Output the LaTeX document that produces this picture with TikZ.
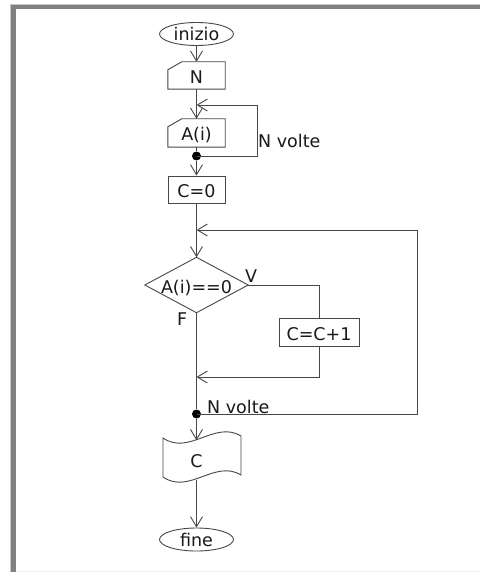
\documentclass[tikz,border=0pt]{standalone}
\usepackage{fontspec}
\setmainfont{DejaVu Sans}
\usetikzlibrary{arrows.meta,shapes.geometric}
\tikzset{
  ln/.style={draw=black!72, line width=0.9pt},
  arr/.style={ln, -{Straight Barb[length=10pt,width=12pt]}},
  txt/.style={font=\fontsize{17.5}{20}\selectfont, text=black!90},
  term/.style={txt, ellipse, ln, minimum width=74, minimum height=23, inner sep=0pt},
  boxnode/.style={txt, rectangle, minimum width=57, minimum height=27, inner sep=0pt, text height=16pt, text depth=0pt},
  procbox/.style={boxnode, ln},
  dot/.style={circle, fill=black, minimum size=9, inner sep=0pt},
  lbl/.style={txt, anchor=base west, inner sep=0pt}
}
\newcommand{\lowtxt}[1]{\raisebox{-6.5pt}[0pt][0pt]{#1}}
\begin{document}
\begin{tikzpicture}[x=1pt,y=-1pt]
\useasboundingbox (0,0) rectangle (480,572);
% frame
\fill[white] (0,0) rectangle (480,572);
\fill[black!50] (10.7,4.3) rectangle (15.7,572);
\fill[black!50] (10.7,4.3) rectangle (480,9.3);
\draw[black!22, line width=0.7pt] (10.3,572) -- (10.3,3.9) -- (480,3.9);
\fill[black!6] (15.7,570.6) rectangle (480,572);

% nodes
\node[term] (s) at (196.5,34) {\lowtxt{inizio}};
\node[boxnode] (N) at (196.5,75.5) {N};
\node[boxnode, minimum height=28] (A) at (196.5,133) {A(i)};
\node[dot] (d1) at (196.5,156) {};
\node[procbox] (C0) at (196.5,189.5) {C=0};
\node[boxnode, minimum width=103, minimum height=55] (D) at (196.5,285) {A(i)==0};
\node[procbox, minimum width=80, minimum height=28] (inc) at (319,332) {C=C+1};
\node[dot] (d2) at (196.5,414) {};
\node[txt, minimum width=10, minimum height=39, inner sep=0pt, text height=15pt, text depth=0pt] (tape) at (196.5,460) {C};
\node[term] (f) at (196.5,539.5) {\lowtxt{fine}};

\coordinate (j1) at (196.5,105);
\coordinate (j2) at (196.5,230);
\coordinate (j3) at (196.5,377);

% special shapes
\draw[ln] (N.south west) -- (N.south east) -- (N.north east) -- ([xshift=14pt]N.north west) -- ([yshift=-8pt]N.north west) -- cycle;
\draw[ln] (A.south west) -- (A.south east) -- (A.north east) -- ([xshift=14pt]A.north west) -- ([yshift=-8pt]A.north west) -- cycle;
\draw[ln] (D.north) -- (D.east) -- (D.south) -- (D.west) -- cycle;
\draw[ln] (163,438) .. controls (189,456) and (215,420) .. (241,436)
  -- (241,475) .. controls (215,459) and (189,495) .. (163,477) -- cycle;

% labels
\node[lbl] (nv1) at (258,148) {N volte};
\node[lbl] (nv2) at (207,413) {N volte};
\node[lbl] (lv) at (245,282) {V};
\node[lbl] (lf) at (177,325) {F};

% connectors
\draw[arr] (s) -- (N);
\draw[arr] (N) -- (A);
\draw[arr] (d1.center) -- ++(60.5,0) |- (j1);
\draw[ln] (A) -- (d1);
\draw[arr] (d1) -- (C0);
\draw[arr] (C0) -- (D.north);
\draw[ln] (D.east) -| (inc.north);
\draw[arr] (inc.south) |- (j3);
\draw[ln] (D.south) -- (d2);
\draw[arr] (d2.center) -- ++(220.5,0) |- (j2);
\draw[arr] (d2) -- (tape.north);
\draw[arr] (tape.south) -- (f);
\end{tikzpicture}
\end{document}
